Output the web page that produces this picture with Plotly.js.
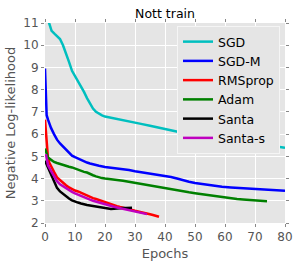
<!DOCTYPE html>
<html><head><meta charset="utf-8">
<script src="https://cdn.plot.ly/plotly-3.0.1.min.js"></script>
<style>html,body{margin:0;padding:0;background:#fff}#chart{width:299px;height:267px}</style>
</head><body><div id="chart"></div>
<script>
const sgdX = [1, 1.4, 2.2, 3.3, 5, 6, 7, 8, 9, 10, 11, 12, 13, 14, 15, 16, 17, 18, 19, 20, 22, 24, 26, 28, 30, 32, 35, 40, 45, 50, 55, 60, 65, 70, 75, 80];
const sgdY = [11.15, 11.0, 10.65, 10.5, 10.28, 10.0, 9.65, 9.25, 8.85, 8.62, 8.42, 8.18, 7.9, 7.62, 7.38, 7.15, 7.0, 6.9, 6.84, 6.79, 6.73, 6.67, 6.62, 6.56, 6.51, 6.46, 6.38, 6.22, 6.08, 5.97, 5.87, 5.78, 5.69, 5.58, 5.48, 5.39];

const sgdmX = [0, 0.3, 0.55, 1, 1.5, 2, 3, 4, 5, 6, 7, 8, 9, 10, 11, 12, 13, 14, 15, 16, 18, 20, 22, 25, 28, 30, 32, 35, 38, 40, 42, 44, 46, 48, 50, 53, 56, 59, 62, 65, 68, 71, 74, 77, 80];
const sgdmY = [8.95, 7.6, 6.85, 6.65, 6.45, 6.28, 6.0, 5.75, 5.58, 5.45, 5.3, 5.15, 5.03, 4.96, 4.9, 4.82, 4.76, 4.72, 4.68, 4.64, 4.58, 4.52, 4.49, 4.44, 4.38, 4.33, 4.29, 4.23, 4.15, 4.12, 4.07, 4.0, 3.92, 3.86, 3.8, 3.74, 3.68, 3.63, 3.6, 3.57, 3.54, 3.51, 3.49, 3.47, 3.45];

const rmsX = [0, 0.3, 0.6, 1, 1.5, 2, 3, 4, 5, 6, 7, 8, 9, 10, 11, 12, 13, 14, 15, 16, 17, 18, 19, 20, 21, 22, 23, 24, 25, 26, 27, 28, 29, 30, 31, 32, 33, 34, 35, 36, 37, 38];
const rmsY = [6.65, 6.0, 5.3, 4.9, 4.7, 4.55, 4.3, 4.05, 3.92, 3.82, 3.7, 3.6, 3.52, 3.46, 3.42, 3.36, 3.28, 3.22, 3.16, 3.12, 3.08, 3.03, 2.98, 2.93, 2.89, 2.85, 2.8, 2.76, 2.72, 2.68, 2.65, 2.62, 2.58, 2.55, 2.52, 2.48, 2.45, 2.42, 2.39, 2.36, 2.32, 2.28];

const adamX = [0, 0.5, 1, 2, 3, 4, 5, 6, 7, 8, 9, 10, 11, 12, 13, 14, 15, 16, 17, 18, 19, 20, 22, 24, 26, 28, 30, 32, 34, 36, 38, 40, 42, 44, 46, 48, 50, 52, 54, 56, 58, 60, 62, 64, 66, 68, 70, 72, 74];
const adamY = [5.35, 5.1, 4.95, 4.85, 4.75, 4.7, 4.65, 4.6, 4.57, 4.53, 4.5, 4.45, 4.4, 4.33, 4.3, 4.27, 4.2, 4.15, 4.1, 4.05, 4.02, 4.0, 3.98, 3.94, 3.9, 3.85, 3.8, 3.76, 3.72, 3.66, 3.6, 3.55, 3.5, 3.46, 3.42, 3.38, 3.34, 3.3, 3.27, 3.23, 3.21, 3.15, 3.11, 3.08, 3.06, 3.04, 3.02, 3.0, 2.98];

const santaX = [0, 0.5, 1, 2, 3, 4, 5, 6, 7, 8, 9, 10, 11, 12, 13, 14, 15, 16, 17, 18, 19, 20, 21, 22, 23, 24, 25, 26, 27, 28, 29];
const santaY = [4.8, 4.65, 4.5, 4.15, 3.85, 3.58, 3.42, 3.3, 3.2, 3.1, 3.02, 2.96, 2.92, 2.88, 2.83, 2.81, 2.79, 2.77, 2.74, 2.72, 2.7, 2.67, 2.64, 2.63, 2.64, 2.66, 2.66, 2.67, 2.68, 2.68, 2.69];

const santasX = [0.3, 0.6, 1, 2, 3, 4, 5, 6, 7, 8, 9, 10, 11, 12, 13, 14, 15, 16, 17, 18, 19, 20, 21, 22, 23, 24, 25, 26, 27, 28, 29, 30, 31, 32, 33, 34];
const santasY = [5.1, 4.8, 4.6, 4.35, 4.08, 3.88, 3.74, 3.65, 3.55, 3.47, 3.4, 3.33, 3.27, 3.2, 3.15, 3.1, 3.05, 3.0, 2.96, 2.92, 2.87, 2.82, 2.79, 2.76, 2.73, 2.7, 2.67, 2.64, 2.61, 2.58, 2.55, 2.52, 2.49, 2.46, 2.43, 2.4];

const xTicks = [0, 10, 20, 30, 40, 50, 60, 70, 80];
const yTicks = [2, 3, 4, 5, 6, 7, 8, 9, 10, 11];

const series = [
  {name: 'SGD', x: sgdX, y: sgdY, color: '#00bfbf'},
  {name: 'SGD-M', x: sgdmX, y: sgdmY, color: '#0000ff'},
  {name: 'RMSprop', x: rmsX, y: rmsY, color: '#ff0000'},
  {name: 'Adam', x: adamX, y: adamY, color: '#008000'},
  {name: 'Santa', x: santaX, y: santaY, color: '#000000'},
  {name: 'Santa-s', x: santasX, y: santasY, color: '#bf00bf'}
];

const traces = series.map(s => ({
  type: 'scatter', mode: 'lines', name: s.name, x: s.x, y: s.y,
  line: {color: s.color, width: 2.5}
}));

const axisCommon = {
  showgrid: true, gridcolor: '#ffffff', gridwidth: 1,
  zeroline: false, showline: false,
  ticks: 'outside', ticklen: 3, tickcolor: '#888', mirror: 'ticks',
  tickfont: {family: 'DejaVu Sans', size: 12, color: '#555'}
};

const layout = {
  width: 299, height: 267,
  margin: {l: 45, r: 14, t: 23, b: 44},
  paper_bgcolor: '#ffffff', plot_bgcolor: '#e5e5e5',
  font: {family: 'DejaVu Sans', color: '#555'},
  title: {text: 'Nott train', font: {family: 'DejaVu Sans', size: 12.5, color: '#000'}, xref: 'paper', x: 0.5, xanchor: 'center', y: 0.95, yanchor: 'middle'},
  xaxis: Object.assign({}, axisCommon, {
    range: [0, 80], tickvals: xTicks, ticktext: xTicks.map(String),
    title: {text: 'Epochs', font: {family: 'DejaVu Sans', size: 13, color: '#555'}, standoff: 5}
  }),
  yaxis: Object.assign({}, axisCommon, {
    range: [2, 11], tickvals: yTicks, ticktext: yTicks.map(String),
    title: {text: 'Negative Log-likelihood', font: {family: 'DejaVu Sans', size: 13, color: '#555'}, standoff: 4}
  }),
  showlegend: true,
  legend: {
    x: 0.55, y: 0.985, xanchor: 'left', yanchor: 'top',
    bgcolor: '#e5e5e5', bordercolor: '#f5f5f5', borderwidth: 1,
    font: {family: 'DejaVu Sans', size: 12.5, color: '#000'},
    tracegroupgap: 0
  }
};

Plotly.newPlot('chart', traces, layout, {displayModeBar: false, staticPlot: true});
</script>
</body></html>
